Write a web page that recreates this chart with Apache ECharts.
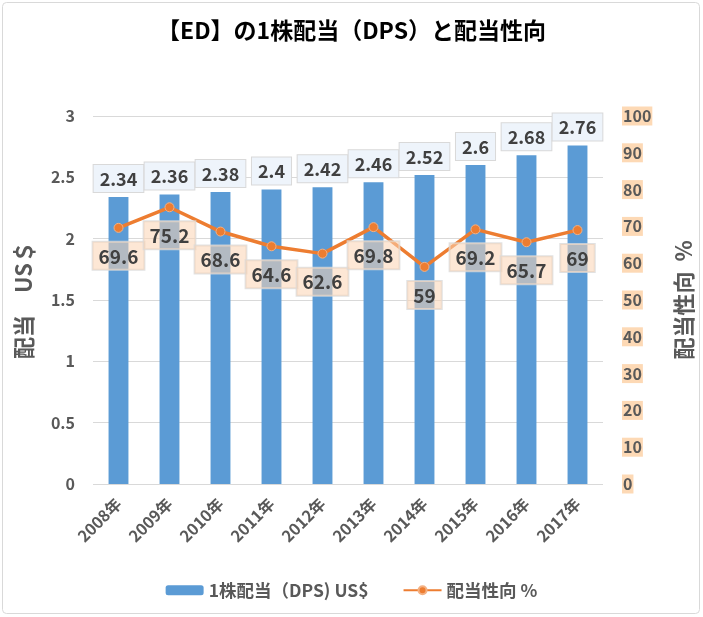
<!DOCTYPE html>
<html><head><meta charset="utf-8">
<script src="https://cdn.jsdelivr.net/npm/echarts@6/dist/echarts.min.js"></script>
<style>html,body{margin:0;padding:0;background:#fff}#c{width:703px;height:617px}</style>
</head><body><div id="c"></div>
<script>
const categories = ['2008年','2009年','2010年','2011年','2012年','2013年','2014年','2015年','2016年','2017年'];
const dps = [2.34, 2.36, 2.38, 2.4, 2.42, 2.46, 2.52, 2.6, 2.68, 2.76];
const payout = [69.6, 75.2, 68.6, 64.6, 62.6, 69.8, 59, 69.2, 65.7, 69];
const seriesNames = ['1株配当（DPS) US$', '配当性向 %'];
const titleText = '【ED】の1株配当（DPS）と配当性向';

const FF = '"Noto Sans CJK JP", "Noto Sans", sans-serif';
const chart = echarts.init(document.getElementById('c'));
chart.setOption({
  animation: false,
  textStyle: { fontFamily: FF },
  title: { text: titleText, left: 'center', top: 14,
    textStyle: { fontFamily: FF, fontSize: 23, fontWeight: 'bold', color: '#000' } },
  graphic: [{ type: 'rect', shape: { x: 2.5, y: 2.5, width: 697, height: 611, r: 4 },
    style: { fill: 'none', stroke: '#d9d9d9', lineWidth: 1 }, silent: true }],
  legend: { bottom: 13, left: 'center', itemGap: 34, itemWidth: 38, itemHeight: 10,
    textStyle: { fontFamily: FF, fontSize: 17.5, fontWeight: 'bold', color: '#595959' },
    data: seriesNames },
  grid: { left: 93, right: 99, top: 116, bottom: 133 },
  xAxis: { type: 'category', data: categories,
    axisLine: { show: false }, axisTick: { show: false },
    axisLabel: { rotate: 45, margin: 17, fontFamily: FF, fontSize: 16, fontWeight: 'bold', color: '#595959' } },
  yAxis: [
    { type: 'value', min: 0, max: 3, interval: 0.5,
      name: '配当　US＄', nameLocation: 'middle', nameRotate: 90, nameGap: 58,
      nameTextStyle: { fontFamily: FF, fontSize: 22, fontWeight: 'bold', color: '#595959' },
      axisLine: { show: false }, axisTick: { show: false },
      splitLine: { lineStyle: { color: '#d9d9d9', width: 1 } },
      axisLabel: { margin: 18, fontFamily: FF, fontSize: 16, fontWeight: 'bold', color: '#595959' } },
    { type: 'value', min: 0, max: 100, interval: 10,
      name: '配当性向  %', nameLocation: 'middle', nameRotate: 90, nameGap: 70,
      nameTextStyle: { fontFamily: FF, fontSize: 22, fontWeight: 'bold', color: '#595959' },
      axisLine: { show: false }, axisTick: { show: false }, splitLine: { show: false },
      axisLabel: { margin: 19, align: 'left', fontFamily: FF, fontSize: 16, fontWeight: 'bold', color: '#595959',
        backgroundColor: '#fdd9b5', padding: [2, 1, 1, 1] } }
  ],
  series: [
    { name: seriesNames[0], type: 'bar', data: dps, barWidth: '39%', yAxisIndex: 0,
      itemStyle: { color: '#5B9BD5' },
      label: { show: true, position: 'top', distance: 5, fontFamily: FF, fontSize: 18, fontWeight: 'bold', color: '#404040',
        backgroundColor: '#EEF4FB', borderColor: '#D9D9D9', borderWidth: 1, padding: [5, 6, 4, 6] } },
    { name: seriesNames[1], type: 'line', data: payout, yAxisIndex: 1,
      lineStyle: { color: '#ED7D31', width: 3.5 },
      itemStyle: { color: '#ED7D31', borderColor: '#F4B183', borderWidth: 1 },
      symbol: 'circle', symbolSize: 9, z: 5,
      label: { show: true, position: 'bottom', distance: 9, fontFamily: FF, fontSize: 19, fontWeight: 'bold', color: '#404040',
        backgroundColor: 'rgba(251,211,178,0.55)', borderColor: 'rgba(217,217,217,0.8)', borderWidth: 1, padding: [5, 6, 4, 6] } }
  ]
});
</script></body></html>
